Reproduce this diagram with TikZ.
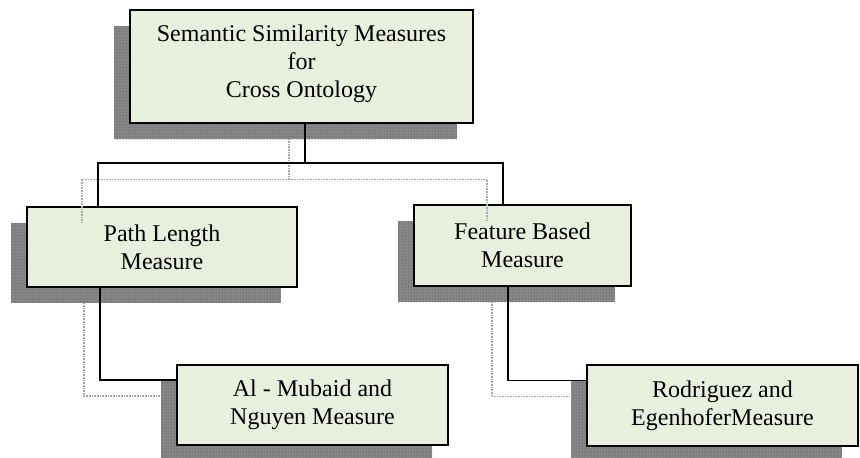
\documentclass[tikz,border=0pt]{standalone}
\usepackage{fontspec}
\setmainfont{Liberation Serif}
\usetikzlibrary{patterns}
\definecolor{boxfill}{RGB}{233,239,221}
\definecolor{shadefill}{RGB}{135,135,135}
\definecolor{ghost}{RGB}{168,168,168}
\begin{document}
\begin{tikzpicture}[x=1pt,y=-1pt,
  card/.style={rectangle, draw=black, line width=1.5pt, fill=boxfill, inner sep=0pt,
    align=center, font=\fontsize{24}{28}\selectfont},
  shade/.style={rectangle, inner sep=0pt, preaction={fill=shadefill},
    pattern=dots, pattern color=black!75},
  link/.style={draw=black, line width=1.5pt},
  ghostlink/.style={draw=ghost, line width=1.3pt, dash pattern=on 1pt off 0.6pt}]
\useasboundingbox (0,0) rectangle (860,458);

% drop shadows, offset down-left
\node[shade, minimum width=343pt, minimum height=113pt] (topS)  at (285.5,82.5) {};
\node[shade, minimum width=270pt, minimum height=80pt]  (pathS) at (146,263) {};
\node[shade, minimum width=217pt, minimum height=81pt]  (featS) at (506.5,261.5) {};
\node[shade, minimum width=271pt, minimum height=80pt]  (alS)   at (296.5,421) {};
\node[shade, minimum width=271pt, minimum height=81pt]  (rodS)  at (706.5,421.5) {};

% boxes
\node[card, minimum width=343pt, minimum height=113pt] (top)  at (301.5,66.5)
  {Semantic Similarity Measures\\for\\Cross Ontology\rule[-11pt]{0pt}{11pt}};
\node[card, minimum width=270pt, minimum height=80pt]  (path) at (162,247)
  {Path Length\\Measure};
\node[card, minimum width=217pt, minimum height=81pt]  (feat) at (522.5,245.5)
  {Feature Based\\Measure};
\node[card, minimum width=271pt, minimum height=80pt]  (al)   at (312.5,405)
  {Al - Mubaid and\\Nguyen Measure};
\node[card, minimum width=271pt, minimum height=81pt]  (rod)  at (722.5,405.5)
  {Rodriguez and\\EgenhoferMeasure};

% shadow copies of the connectors
\draw[ghostlink] ([xshift=3.5pt]topS.south) -- ++(0,40) -| ([xshift=-64pt]pathS.north);
\draw[ghostlink] ([xshift=3.5pt]topS.south) -- ++(0,40) -| ([xshift=-19.5pt]featS.north);
\draw[ghostlink] ([xshift=-62pt]pathS.south) |- ([yshift=25pt]alS.west);
\draw[ghostlink] ([xshift=-14.5pt]featS.south) |- ([yshift=25pt]rodS.west);

% connectors
\draw[link] ([xshift=3.5pt]top.south) -- ++(0,39) -| ([xshift=-64pt]path.north);
\draw[link] ([xshift=3.5pt]top.south) -- ++(0,39) -| ([xshift=-19.5pt]feat.north);
\draw[link] ([xshift=-62pt]path.south) |- ([yshift=25pt]al.west);
\draw[link] ([xshift=-14.5pt]feat.south) |- ([yshift=25pt]rod.west);
\end{tikzpicture}
\end{document}
